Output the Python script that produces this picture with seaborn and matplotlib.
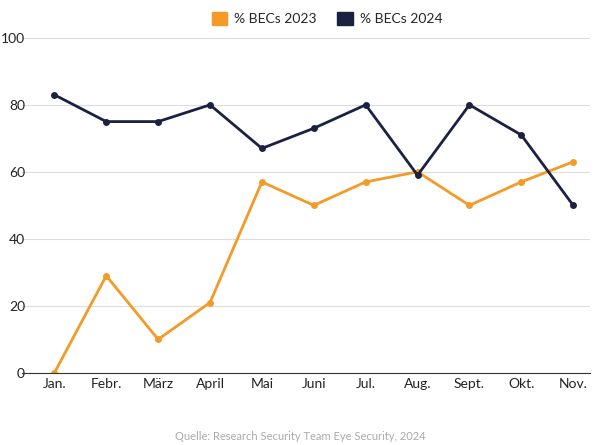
import matplotlib
matplotlib.use("Agg")
import matplotlib.pyplot as plt
import seaborn as sns
import pandas as pd

months = ["Jan.", "Febr.", "März", "April", "Mai", "Juni", "Jul.", "Aug.", "Sept.", "Okt.", "Nov."]
becs_2023 = [0, 29, 10, 21, 57, 50, 57, 60, 50, 57, 63]
becs_2024 = [83, 75, 75, 80, 67, 73, 80, 59, 80, 71, 50]
series_names = ["% BECs 2023", "% BECs 2024"]
colors = ["#F39A28", "#1B2140"]

sns.set_style("white")
plt.rcParams['font.family'] = ['Source Sans Pro', 'Lato', 'DejaVu Sans']

df = pd.DataFrame({"Monat": months * 2,
                   "Wert": becs_2023 + becs_2024,
                   "Serie": [series_names[0]] * len(months) + [series_names[1]] * len(months)})

fig = plt.figure(figsize=(6, 4.45), dpi=100)
ax = fig.add_axes([0.037, 0.162, 0.946, 0.753])
sns.lineplot(data=df, x="Monat", y="Wert", hue="Serie", palette=colors, marker="o",
             markersize=5, markeredgewidth=0, linewidth=2, ax=ax, sort=False, legend=False)
ax.set_ylim(0, 100)
ax.set_xlim(-0.62, 10.32)
ax.set_yticks([0, 20, 40, 60, 80, 100])
ax.grid(axis="y", color="#DDDDDD", linewidth=0.8)
ax.set_axisbelow(True)
for s in ["top", "right", "left"]:
    ax.spines[s].set_visible(False)
ax.spines["bottom"].set_color("#333333")
ax.tick_params(axis="both", labelsize=10, colors="#222222", length=0)
ax.tick_params(axis="y", pad=-2)
for lbl in ax.get_yticklabels():
    lbl.set_horizontalalignment("right")
ax.set_xlabel("")
ax.set_ylabel("")

from matplotlib.patches import Patch
handles = [Patch(color=c, label=n) for c, n in zip(colors, series_names)]
fig.legend(handles=handles, loc="center", bbox_to_anchor=(0.545, 0.958), ncol=2, frameon=False,
           fontsize=10, handlelength=1.1, handleheight=1.1, columnspacing=1.5, handletextpad=0.5)
fig.text(0.5, 0.012, "Quelle: Research Security Team Eye Security, 2024", ha="center",
         fontsize=8, color="#AAAAAA")
fig.savefig("out.png", dpi=100)
